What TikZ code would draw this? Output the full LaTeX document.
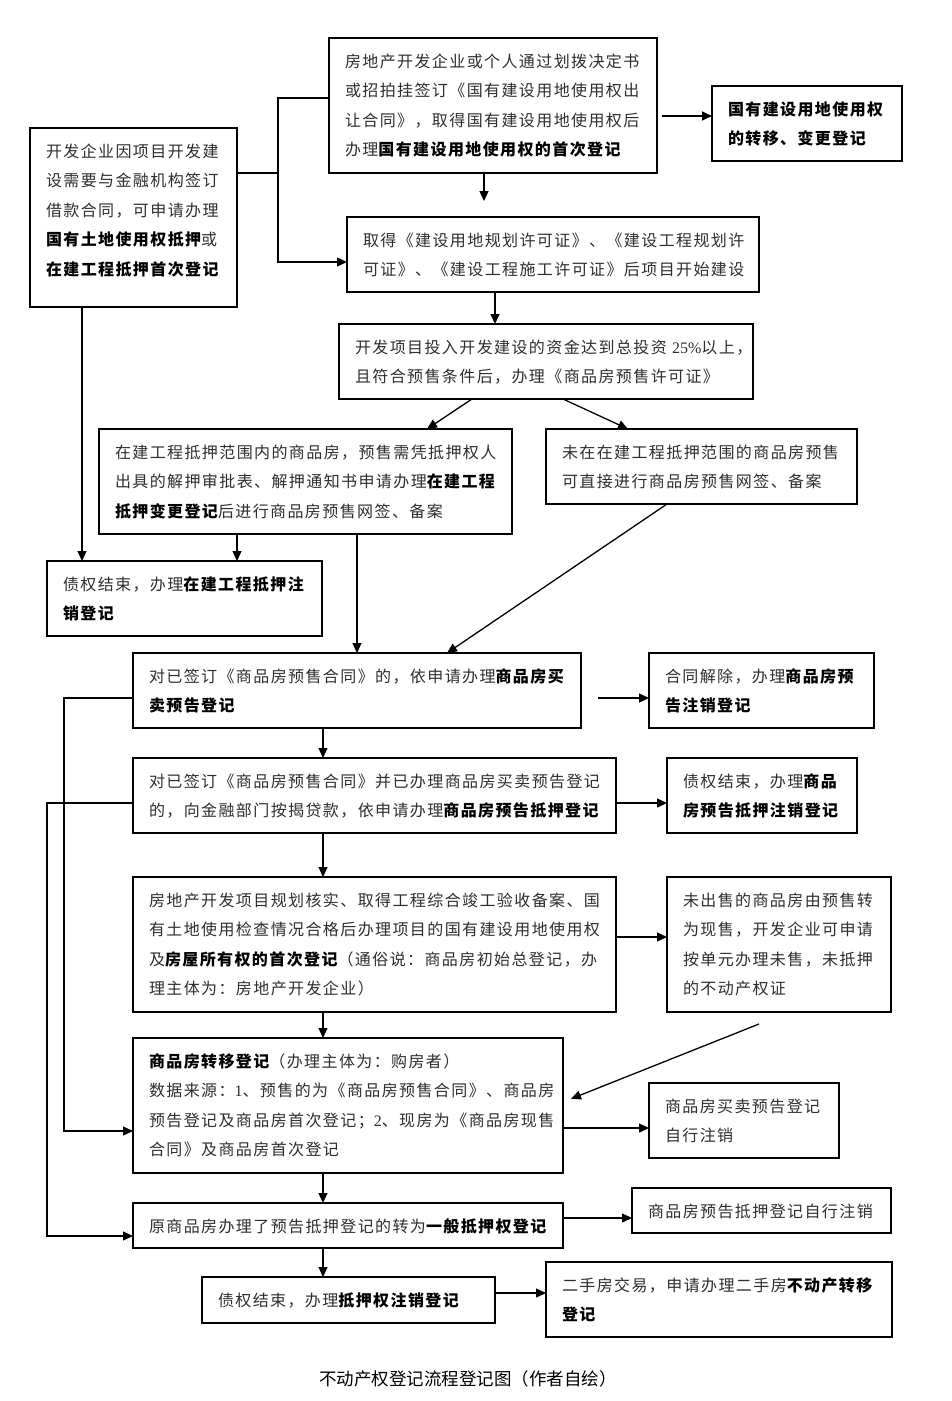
\documentclass[tikz,border=0pt]{standalone}
\usepackage{fontspec}
\usetikzlibrary{arrows.meta}
\newfontfamily\cjk{Noto Sans CJK SC}[LetterSpace=8.75]
\newfontfamily\capfont{Noto Sans CJK SC}
\newfontfamily\latfont{Liberation Serif}
\newcommand\kw[1]{{\bfseries\color{black}#1}}
\newcommand\lat[1]{{\latfont #1}}
\tikzset{
  box/.style={draw, line width=1.5pt, inner sep=0pt, outer sep=0pt},
  txt/.style={anchor=base west, inner sep=0pt, outer sep=0pt, align=left,
              text=black!82, font={\cjk\fontsize{16pt}{29.5pt}\selectfont}},
  conn/.style={line width=1.3pt},
  arr/.style={line width=1.3pt, -{Triangle[length=10pt,width=9pt]}},
}
% name, x1, y1, x2, y2, text
\newcommand\fbx[6]{%
  \node[box, minimum width={#4-#2}, minimum height={#5-#3}] (#1) at ({(#2+#4)/2},{(#3+#5)/2}) {};
  \node[txt, text width={#4-#2}] (#1t) at ({#2+16},{#3+29}) {#6};
}
\begin{document}
\begin{tikzpicture}[x=1pt,y=-1pt]
\useasboundingbox (0,0) rectangle (952,1401);
\fill[white] (0,0) rectangle (952,1401);

\fbx{A}{30}{128}{237}{307}{开发企业因项目开发建\\设需要与金融机构签订\\借款合同，可申请办理\\\kw{国有土地使用权抵押}或\\\kw{在建工程抵押首次登记}}
\fbx{B}{329}{38}{657}{173}{房地产开发企业或个人通过划拨决定书\\或招拍挂签订《国有建设用地使用权出\\让合同》，取得国有建设用地使用权后\\办理\kw{国有建设用地使用权的首次登记}}
\fbx{C}{712}{86}{902}{161}{\kw{国有建设用地使用权}\\\kw{的转移、变更登记}}
\fbx{D}{347}{217}{759}{292}{取得《建设用地规划许可证》、《建设工程规划许\\可证》、《建设工程施工许可证》后项目开始建设}
\fbx{E}{339}{324}{753}{399}{开发项目投入开发建设的资金达到总投资~\lat{25\%}以上，\\且符合预售条件后，办理《商品房预售许可证》}
\fbx{F}{99}{429}{512}{534}{在建工程抵押范围内的商品房，预售需凭抵押权人\\出具的解押审批表、解押通知书申请办理\kw{在建工程}\\\kw{抵押变更登记}后进行商品房预售网签、备案}
\fbx{G}{546}{429}{857}{504}{未在在建工程抵押范围的商品房预售\\可直接进行商品房预售网签、备案}
\fbx{H}{47}{561}{322}{636}{债权结束，办理\kw{在建工程抵押注}\\\kw{销登记}}
\fbx{I}{133}{653}{581}{728}{对已签订《商品房预售合同》的，依申请办理\kw{商品房买}\\\kw{卖预告登记}}
\fbx{J}{649}{653}{874}{728}{合同解除，办理\kw{商品房预}\\\kw{告注销登记}}
\fbx{K}{133}{758}{616}{833}{对已签订《商品房预售合同》并已办理商品房买卖预告登记\\的，向金融部门按揭贷款，依申请办理\kw{商品房预告抵押登记}}
\fbx{L}{667}{758}{857}{833}{债权结束，办理\kw{商品}\\\kw{房预告抵押注销登记}}
\fbx{M}{133}{877}{616}{1012}{房地产开发项目规划核实、取得工程综合竣工验收备案、国\\有土地使用检查情况合格后办理项目的国有建设用地使用权\\及\kw{房屋所有权的首次登记}（通俗说：商品房初始总登记，办\\理主体为：房地产开发企业）}
\fbx{N}{667}{877}{891}{1012}{未出售的商品房由预售转\\为现售，开发企业可申请\\按单元办理未售，未抵押\\的不动产权证}
\fbx{O}{133}{1038}{563}{1173}{\kw{商品房转移登记}（办理主体为：购房者）\\数据来源：\lat{1}、预售的为《商品房预售合同》、商品房\\预告登记及商品房首次登记；\lat{2}、现房为《商品房现售\\合同》及商品房首次登记}
\fbx{P}{649}{1083}{839}{1158}{商品房买卖预告登记\\自行注销}
\fbx{Q}{133}{1203}{563}{1248}{原商品房办理了预告抵押登记的转为\kw{一般抵押权登记}}
\fbx{R}{632}{1188}{891}{1233}{商品房预告抵押登记自行注销}
\fbx{S}{202}{1277}{495}{1323}{债权结束，办理\kw{抵押权注销登记}}
\fbx{T}{546}{1262}{892}{1337}{二手房交易，申请办理二手房\kw{不动产转移}\\\kw{登记}}

\node[anchor=base, inner sep=0pt, font={\capfont\fontsize{17.5pt}{20pt}\selectfont}] (cap) at (468,1385) {不动产权登记流程登记图（作者自绘）};

% helper coordinates
\coordinate (j1) at (278,173);
\coordinate (j2) at (278,98);
\coordinate (j3) at (278,262);
\coordinate (x484) at (484,0);
\coordinate (x495) at (495,0);
\coordinate (x472) at (472,0);
\coordinate (x427) at (427,0);
\coordinate (x563) at (563,0);
\coordinate (x628) at (628,0);
\coordinate (x82) at (82,0);
\coordinate (x237) at (237,0);
\coordinate (x357) at (357,0);
\coordinate (x667) at (667,0);
\coordinate (x447) at (447,0);
\coordinate (x323) at (323,0);
\coordinate (y116) at (0,116);
\coordinate (y698) at (0,698);
\coordinate (y803) at (0,803);
\coordinate (y937) at (0,937);
\coordinate (y1102) at (0,1102);
\coordinate (y1128) at (0,1128);
\coordinate (y1218) at (0,1218);
\coordinate (y1293) at (0,1293);
\coordinate (l1a) at (64,698);
\coordinate (l1b) at (64,1131);
\coordinate (l2a) at (47,803);
\coordinate (l2b) at (47,1236);
\coordinate (nf) at (759,1024);

% connectors
\draw[conn] (A.east |- j1) -- (j1) -- (j2) -- (B.west |- j2);
\draw[arr] (j1) -- (j3) -- (D.west |- j3);
\draw[arr, shorten <=5pt] (B.east |- y116) -- (C.west |- y116);
\draw[arr, shorten >=16pt] (B.south -| x484) -- (D.north -| x484);
\draw[arr] (D.south -| x495) -- (E.north -| x495);
\draw[arr] (E.south -| x472) -- (F.north -| x427);
\draw[arr] (E.south -| x563) -- (G.north -| x628);
\draw[arr] (A.south -| x82) -- (H.north -| x82);
\draw[arr] (F.south -| x237) -- (H.north -| x237);
\draw[arr] (F.south -| x357) -- (I.north -| x357);
\draw[arr] (G.south -| x667) -- (I.north -| x447);
\draw[arr, shorten <=17pt] (I.east |- y698) -- (J.west |- y698);
\draw[arr] (I.south -| x323) -- (K.north -| x323);
\draw[arr] (K.east |- y803) -- (L.west |- y803);
\draw[arr] (K.south -| x323) -- (M.north -| x323);
\draw[arr] (M.east |- y937) -- (N.west |- y937);
\draw[arr] (M.south -| x323) -- (O.north -| x323);
\draw[arr, shorten >=8.6pt] (nf) -- (O.east |- y1102);
\draw[arr] (O.east |- y1128) -- (P.west |- y1128);
\draw[arr] (O.south -| x323) -- (Q.north -| x323);
\draw[arr] (Q.east |- y1218) -- (R.west |- y1218);
\draw[arr] (Q.south -| x323) -- (S.north -| x323);
\draw[arr] (S.east |- y1293) -- (T.west |- y1293);
\draw[arr] (I.west |- l1a) -- (l1a) -- (l1b) -- (O.west |- l1b);
\draw[arr] (K.west |- l2a) -- (l2a) -- (l2b) -- (Q.west |- l2b);
\end{tikzpicture}
\end{document}
